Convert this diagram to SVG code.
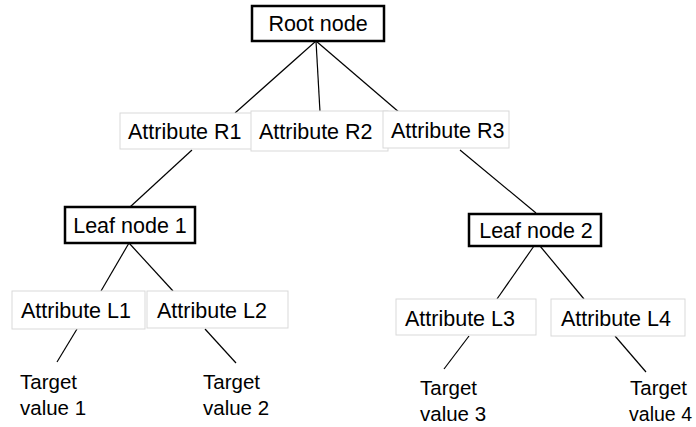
<svg xmlns="http://www.w3.org/2000/svg" width="696" height="427" viewBox="0 0 696 427">
  <style>
    .bg { fill: #ffffff; }
    .node { fill: #ffffff; stroke: #000000; stroke-width: 2.5; }
    .attr { fill: #ffffff; stroke: #d9d9d9; stroke-width: 1; }
    .edge { stroke: #000000; stroke-width: 1.2; fill: none; }
    text { font-family: "Liberation Sans", Arial, sans-serif; font-size: 21.5px; fill: #000000; }
    .tv { font-size: 20.5px; }
  </style>
  <rect class="bg" x="0" y="0" width="696" height="427"/>

  <!-- connectors -->
  <g id="connectors">
    <line class="edge" x1="316" y1="41" x2="235" y2="113"/>
    <line class="edge" x1="316" y1="41" x2="320" y2="112"/>
    <line class="edge" x1="316" y1="41" x2="407" y2="119"/>
    <line class="edge" x1="192" y1="150" x2="130" y2="207"/>
    <line class="edge" x1="460" y1="150" x2="536" y2="213"/>
    <line class="edge" x1="129" y1="243" x2="101" y2="291"/>
    <line class="edge" x1="129" y1="243" x2="173" y2="291"/>
    <line class="edge" x1="77" y1="329" x2="57" y2="362"/>
    <line class="edge" x1="205" y1="329" x2="236" y2="363"/>
    <line class="edge" x1="534" y1="246" x2="497" y2="299"/>
    <line class="edge" x1="540" y1="246" x2="584" y2="299"/>
    <line class="edge" x1="469" y1="336" x2="444" y2="369"/>
    <line class="edge" x1="615" y1="336" x2="646" y2="372"/>
  </g>

  <!-- root -->
  <g id="root">
    <rect class="node" x="252" y="6" width="132" height="35"/>
    <text x="318" y="31" text-anchor="middle">Root node</text>
  </g>

  <!-- first-level attributes -->
  <g id="attr-r1">
    <rect class="attr" x="120" y="113" width="133" height="36"/>
    <text x="128" y="139">Attribute R1</text>
  </g>
  <g id="attr-r2">
    <rect class="attr" x="251" y="111" width="137" height="40"/>
    <text x="259" y="139">Attribute R2</text>
  </g>
  <g id="attr-r3">
    <rect class="attr" x="383" y="111" width="126" height="37"/>
    <text x="391" y="138">Attribute R3</text>
  </g>

  <!-- leaf nodes -->
  <g id="leaf-1">
    <rect class="node" x="65" y="207" width="130" height="36"/>
    <text x="130" y="233" text-anchor="middle">Leaf node 1</text>
  </g>
  <g id="leaf-2">
    <rect class="node" x="469" y="214" width="132" height="32"/>
    <text x="536" y="238" text-anchor="middle">Leaf node 2</text>
  </g>

  <!-- second-level attributes -->
  <g id="attr-l1">
    <rect class="attr" x="12" y="291" width="133" height="38"/>
    <text x="21" y="318">Attribute L1</text>
  </g>
  <g id="attr-l2">
    <rect class="attr" x="147" y="291" width="141" height="37"/>
    <text x="157" y="318">Attribute L2</text>
  </g>
  <g id="attr-l3">
    <rect class="attr" x="396" y="299" width="140" height="36"/>
    <text x="405" y="326">Attribute L3</text>
  </g>
  <g id="attr-l4">
    <rect class="attr" x="551" y="299" width="134" height="37"/>
    <text x="561" y="326">Attribute L4</text>
  </g>

  <!-- target values -->
  <g id="target-1">
    <text class="tv" x="20" y="389">Target</text>
    <text class="tv" x="20" y="415">value 1</text>
  </g>
  <g id="target-2">
    <text class="tv" x="203" y="389">Target</text>
    <text class="tv" x="203" y="415">value 2</text>
  </g>
  <g id="target-3">
    <text class="tv" x="420" y="395">Target</text>
    <text class="tv" x="420" y="421">value 3</text>
  </g>
  <g id="target-4">
    <text class="tv" x="630" y="395">Target</text>
    <text class="tv" x="629" y="421" textLength="63" lengthAdjust="spacingAndGlyphs">value 4</text>
  </g>
</svg>
